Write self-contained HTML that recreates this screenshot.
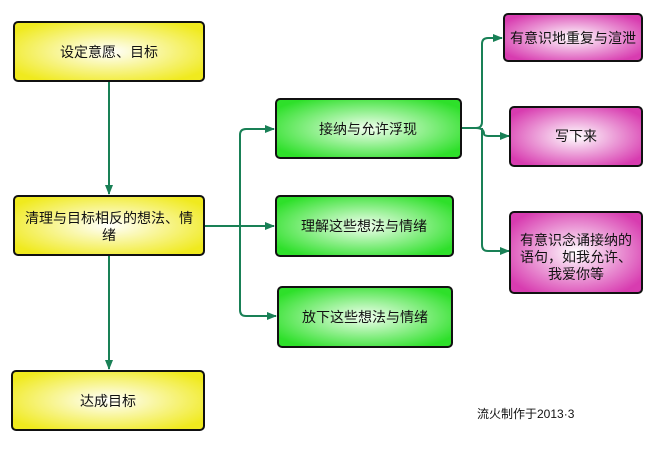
<!DOCTYPE html>
<html><head><meta charset="utf-8"><style>
html,body{margin:0;padding:0;background:#fff;width:657px;height:452px;overflow:hidden}
text{font-family:"Liberation Sans","Noto Sans CJK SC",sans-serif;font-size:14px;fill:#111}
</style></head><body>
<svg width="657" height="452" viewBox="0 0 657 452" xmlns="http://www.w3.org/2000/svg">
<defs>
<radialGradient id="y" cx="50%" cy="50%" r="60%"><stop offset="0" stop-color="#ffffff"/><stop offset="1" stop-color="#f0ea1e"/></radialGradient>
<radialGradient id="g" cx="50%" cy="50%" r="60%"><stop offset="0" stop-color="#f2fff0"/><stop offset="1" stop-color="#2ee02a"/></radialGradient>
<radialGradient id="p" cx="50%" cy="50%" r="60%"><stop offset="0" stop-color="#ffffff"/><stop offset="1" stop-color="#d83cb0"/></radialGradient>
<marker id="a" markerWidth="10" markerHeight="8" refX="9" refY="4" orient="auto" markerUnits="userSpaceOnUse"><path d="M0,0 L10,4 L0,8 z" fill="#198056"/></marker>
</defs>
<g fill="none" stroke="#198056" stroke-width="2">
<path d="M109 81 V194" marker-end="url(#a)"/>
<path d="M109 255 V369" marker-end="url(#a)"/>
<path d="M204 226 H274" marker-end="url(#a)"/>
<path d="M240 226 V135 Q240 129 246 129 H274" marker-end="url(#a)"/>
<path d="M240 226 V310 Q240 316 246 316 H276" marker-end="url(#a)"/>
<path d="M461 128 H476 Q482 128 482 122 V44 Q482 38 488 38 H502" marker-end="url(#a)"/>
<path d="M476 128 Q484 128 484 134 Q484 136 490 136 H509" marker-end="url(#a)"/>
<path d="M482 128 V245 Q482 251 488 251 H509" marker-end="url(#a)"/>
</g>
<g stroke="#111" stroke-width="2">
<rect x="14" y="22" width="190" height="59" rx="4" fill="url(#y)"/>
<rect x="14" y="196" width="190" height="59" rx="4" fill="url(#y)"/>
<rect x="12" y="371" width="192" height="59" rx="4" fill="url(#y)"/>
<rect x="276" y="99" width="185" height="59" rx="4" fill="url(#g)"/>
<rect x="276" y="196" width="177" height="60" rx="4" fill="url(#g)"/>
<rect x="278" y="287" width="174" height="60" rx="4" fill="url(#g)"/>
<rect x="504" y="14" width="138" height="47" rx="4" fill="url(#p)"/>
<rect x="510" y="107" width="132" height="59" rx="4" fill="url(#p)"/>
<rect x="510" y="212" width="132" height="81" rx="4" fill="url(#p)"/>
</g>
<g text-anchor="middle">
<text x="109" y="57">设定意愿、目标</text>
<text x="109" y="223">清理与目标相反的想法、情</text>
<text x="109" y="240">绪</text>
<text x="108" y="406">达成目标</text>
<text x="368" y="134">接纳与允许浮现</text>
<text x="364" y="231">理解这些想法与情绪</text>
<text x="365" y="322">放下这些想法与情绪</text>
<text x="573" y="43">有意识地重复与渲泄</text>
<text x="576" y="141">写下来</text>
<text x="576" y="245">有意识念诵接纳的</text>
<text x="576" y="262">语句，如我允许、</text>
<text x="576" y="279">我爱你等</text>
</g>
<text x="477" y="418" style="font-size:12px">流火制作于2013·3</text>
</svg>
</body></html>
